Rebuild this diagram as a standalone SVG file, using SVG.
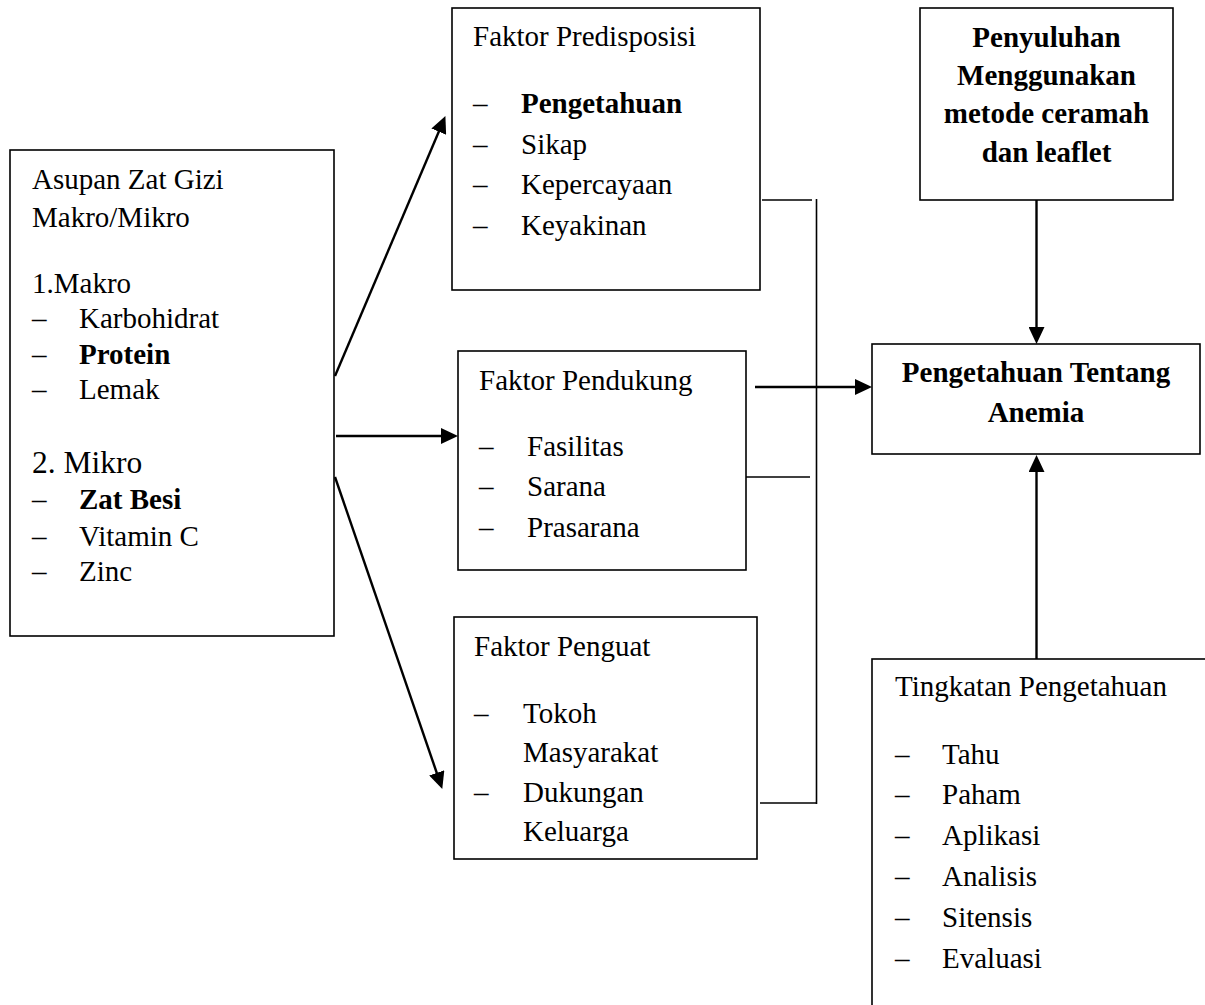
<svg xmlns="http://www.w3.org/2000/svg" width="1205" height="1005" viewBox="0 0 1205 1005">
<style>
.box{fill:#fff;stroke:#000;stroke-width:1.6}
.t{font-size:29px;fill:#000}
.b{font-weight:bold}
.c{text-anchor:middle}
.con{stroke:#000;stroke-width:2.4;fill:none}
.thin{stroke:#000;stroke-width:1.6;fill:none}
</style>
<defs>
<marker id="ah" markerUnits="userSpaceOnUse" markerWidth="18" markerHeight="16" refX="6" refY="8" orient="auto">
<path d="M0,0 L17,8 L0,16 z" fill="#000"/>
</marker>
</defs>
<rect width="1205" height="1005" fill="#fff"/>
<g font-family="Liberation Serif, Tinos, Times New Roman, DejaVu Serif, serif">
<g id="asupan">
<rect class="box" x="10" y="150" width="324" height="486"/>
<text class="t" x="32" y="189">Asupan Zat Gizi</text>
<text class="t" x="32" y="227">Makro/Mikro</text>
<text class="t" x="32" y="293">1.Makro</text>
<text class="t" x="32" y="328">–</text><text class="t" x="79" y="328">Karbohidrat</text>
<text class="t" x="32" y="364">–</text><text class="t b" x="79" y="364">Protein</text>
<text class="t" x="32" y="399">–</text><text class="t" x="79" y="399">Lemak</text>
<text class="t" x="32" y="473" style="font-size:31.5px">2. Mikro</text>
<text class="t" x="32" y="509">–</text><text class="t b" x="79" y="509">Zat Besi</text>
<text class="t" x="32" y="546">–</text><text class="t" x="79" y="546">Vitamin C</text>
<text class="t" x="32" y="581">–</text><text class="t" x="79" y="581">Zinc</text>
</g>
<g id="predisposisi">
<rect class="box" x="452" y="8" width="308" height="282"/>
<text class="t" x="473" y="46">Faktor Predisposisi</text>
<text class="t" x="473" y="113">–</text><text class="t b" x="521" y="113">Pengetahuan</text>
<text class="t" x="473" y="154">–</text><text class="t" x="521" y="154">Sikap</text>
<text class="t" x="473" y="194">–</text><text class="t" x="521" y="194">Kepercayaan</text>
<text class="t" x="473" y="235">–</text><text class="t" x="521" y="235">Keyakinan</text>
</g>
<g id="pendukung">
<rect class="box" x="458" y="351" width="288" height="219"/>
<text class="t" x="479" y="390">Faktor Pendukung</text>
<text class="t" x="479" y="456">–</text><text class="t" x="527" y="456">Fasilitas</text>
<text class="t" x="479" y="496">–</text><text class="t" x="527" y="496">Sarana</text>
<text class="t" x="479" y="537">–</text><text class="t" x="527" y="537">Prasarana</text>
</g>
<g id="penguat">
<rect class="box" x="454" y="617" width="303" height="242"/>
<text class="t" x="474" y="656">Faktor Penguat</text>
<text class="t" x="474" y="723">–</text><text class="t" x="523" y="723">Tokoh</text>
<text class="t" x="523" y="762">Masyarakat</text>
<text class="t" x="474" y="802">–</text><text class="t" x="523" y="802">Dukungan</text>
<text class="t" x="523" y="841">Keluarga</text>
</g>
<g id="penyuluhan">
<rect class="box" x="920" y="8" width="253" height="192"/>
<text class="t b c" x="1046.5" y="47">Penyuluhan</text>
<text class="t b c" x="1046.5" y="85">Menggunakan</text>
<text class="t b c" x="1046.5" y="123">metode ceramah</text>
<text class="t b c" x="1046.5" y="162">dan leaflet</text>
</g>
<g id="pengetahuan">
<rect class="box" x="872" y="344" width="328" height="110"/>
<text class="t b c" x="1036" y="382">Pengetahuan Tentang</text>
<text class="t b c" x="1036" y="422">Anemia</text>
</g>
<g id="tingkatan">
<rect class="box" x="872" y="659" width="400" height="400"/>
<text class="t" x="895" y="696">Tingkatan Pengetahuan</text>
<text class="t" x="895" y="764">–</text><text class="t" x="942" y="764">Tahu</text>
<text class="t" x="895" y="804">–</text><text class="t" x="942" y="804">Paham</text>
<text class="t" x="895" y="845">–</text><text class="t" x="942" y="845">Aplikasi</text>
<text class="t" x="895" y="886">–</text><text class="t" x="942" y="886">Analisis</text>
<text class="t" x="895" y="927">–</text><text class="t" x="942" y="927">Sitensis</text>
<text class="t" x="895" y="968">–</text><text class="t" x="942" y="968">Evaluasi</text>
</g>
</g>
<g id="connectors">
<line class="con" x1="335" y1="376" x2="441.1" y2="126.2" marker-end="url(#ah)"/>
<line class="con" x1="336" y1="436" x2="447" y2="436" marker-end="url(#ah)"/>
<line class="con" x1="335" y1="477" x2="438.7" y2="778.5" marker-end="url(#ah)"/>
<line class="con" x1="755" y1="387" x2="861" y2="387" marker-end="url(#ah)"/>
<line class="con" x1="1036.5" y1="200" x2="1036.5" y2="333" marker-end="url(#ah)"/>
<line class="con" x1="1036.5" y1="659" x2="1036.5" y2="466" marker-end="url(#ah)"/>
<line class="thin" x1="762" y1="200" x2="812" y2="200"/>
<line class="thin" x1="816.5" y1="199" x2="816.5" y2="804"/>
<line class="thin" x1="760" y1="803" x2="816.5" y2="803"/>
<line class="thin" x1="746" y1="477" x2="810" y2="477"/>
</g>
</svg>
